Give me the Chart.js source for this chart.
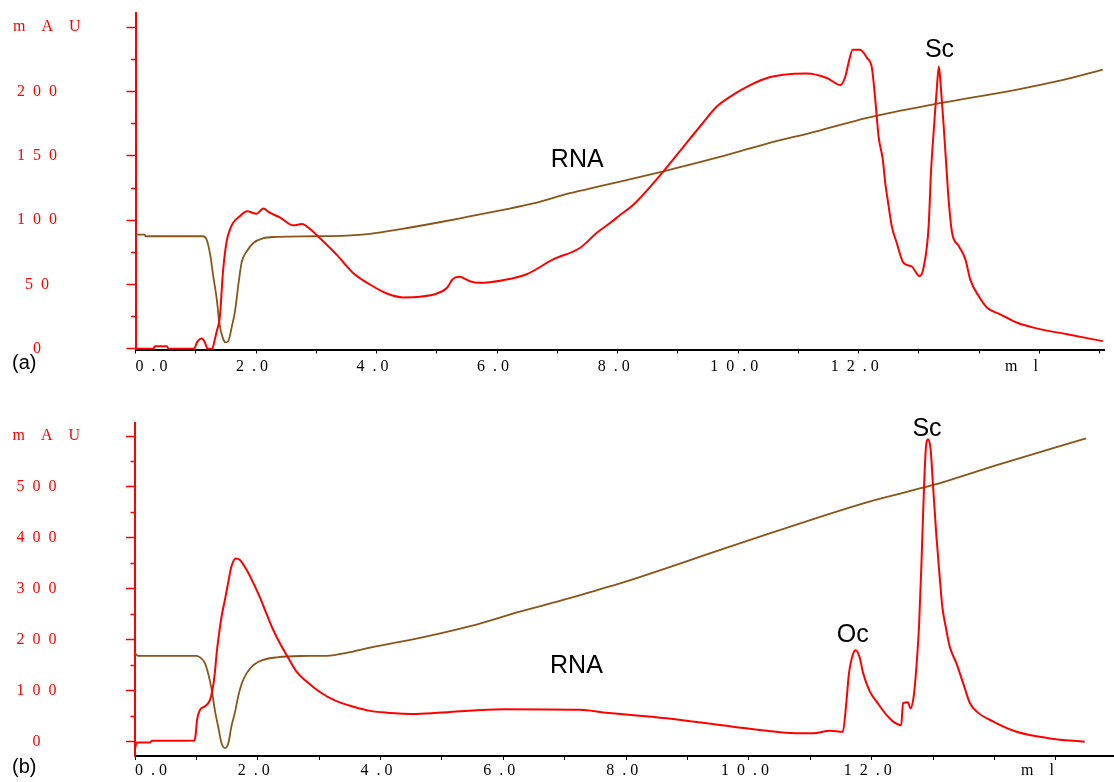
<!DOCTYPE html>
<html><head><meta charset="utf-8">
<script src="https://cdn.jsdelivr.net/npm/chart.js@4/dist/chart.umd.min.js"></script>
<style>
html,body{margin:0;padding:0;background:#fff;}
#wrap{position:relative;width:1114px;height:782px;overflow:hidden;background:#fff;}
canvas{position:absolute;left:0;}
.panel{position:absolute;left:12px;font-family:"Liberation Sans",Arial,sans-serif;font-size:20px;line-height:20px;color:#000;}
</style></head><body>
<div id="wrap">
<canvas id="ca" width="1114" height="385" style="top:0px"></canvas>
<canvas id="cb" width="1114" height="392" style="top:390px"></canvas>
<div class="panel" style="top:352px">(a)</div>
<div class="panel" style="top:756px">(b)</div>
</div>
<script>
// ---------- Panel (a) data ----------
const uvA_ml = [0,0.30,0.32,0.52,0.55,0.97,1.02,1.10,1.15,1.20,1.27,1.32,1.35,1.40,1.45,1.51,1.57,1.62,1.73,1.85,2.01,2.12,2.22,2.40,2.62,2.76,2.90,3.06,3.34,3.61,3.89,4.17,4.44,4.72,5.00,5.17,5.26,5.37,5.55,5.69,6.10,6.49,6.93,7.38,7.65,7.88,8.04,8.26,8.76,9.09,9.37,9.65,9.92,10.20,10.48,10.75,11.14,11.47,11.70,11.78,11.83,11.90,12.02,12.14,12.22,12.27,12.33,12.40,12.44,12.48,12.55,12.63,12.74,12.88,13.01,13.08,13.16,13.20,13.25,13.30,13.33,13.36,13.41,13.45,13.49,13.55,13.66,13.77,13.85,13.99,14.13,14.35,14.63,14.90,15.46,16.05];
const uvA_mAU = [0,0,2,2,0,0,5,8,5,0,0,8,14,25,59,83,93,98,103,107,105,109,106,102,96,97,93,86,73,59,50,43,40,40.5,43,47.5,54,56,52.6,51.4,53.4,58,69.5,78.6,90,98,104,112,138,157,173,188.5,197.6,205,210.5,213,214,210.5,205,212,222,232.5,232.5,226,218,196,165,147,129,116,95,82.5,67,64,56.5,64,95,138,173,205,219.5,205,173,144.5,117,90,80,69.5,54,41,32,26.8,20.3,16.5,11.3,6];
const condA_ml = [0,0.15,0.17,1.12,1.18,1.24,1.29,1.35,1.39,1.46,1.50,1.54,1.60,1.65,1.71,1.76,1.85,1.96,2.12,2.34,3.0,3.5,3.89,4.4,5.0,5.5,6.1,6.6,7.21,7.71,8.04,8.76,9.6,10.48,11.3,12.14,13.24,14.63,15.3,16.05];
const condA_val = [88.7,88.7,87.5,87.5,85,73,56.5,38,20.5,7,5,6,17.7,29,51,67,76,82.5,86,87,87.5,88,89.4,93,98,102.5,108,113,121,126.4,130,138,148,159.5,169,179.5,190,201.5,208,217];
const yTicksA = [0,25,50,75,100,125,150,175,200,225,250];
const notesA = [{text:'RNA', x:7.33, y:141.7}, {text:'Sc', x:13.34, y:227}];

// ---------- Panel (b) data ----------
const uvB_ml = [0,0.03,0.24,0.28,0.97,0.99,1.01,1.06,1.14,1.22,1.27,1.30,1.33,1.37,1.41,1.47,1.52,1.57,1.64,1.71,1.82,1.93,2.04,2.14,2.25,2.36,2.50,2.63,2.80,3.01,3.28,3.56,3.83,4.10,4.59,5.13,6.00,7.25,7.63,8.66,9.74,10.83,11.05,11.32,11.53,11.58,11.63,11.70,11.74,11.80,11.86,11.97,12.08,12.24,12.35,12.48,12.51,12.59,12.63,12.69,12.73,12.77,12.81,12.85,12.88,12.92,12.96,13.00,13.05,13.10,13.15,13.21,13.27,13.38,13.49,13.60,13.71,13.98,14.36,14.90,15.47];
const uvB_mAU = [-12,-1,-1,2.5,3,17,43,63,70,82,108,135,174,213,246,282,314,344,360,357,337,311,282,252,220,193.5,164,138,118,98,80,69,61,57.5,55,59,64,63,58,46.4,30,17,17,22,20,69,135,174,180,167,135,98.6,79,53,40,33,76,78,66,95.5,151,226,350,494,573,593.5,573,500,409,334,265,223,187,154,115,76,59.5,40,20,7,0.6];
const condB_ml = [0,0.05,1.00,1.06,1.14,1.19,1.25,1.30,1.36,1.41,1.47,1.52,1.57,1.63,1.68,1.74,1.82,1.93,2.09,2.31,2.69,3.12,3.50,3.83,4.64,5.46,6.27,7.08,7.57,7.90,9.74,11.92,13.00,14.09,15.49];
const condB_val = [174,169,169,166,154,135,102,63,27,-2.6,-12,-2.6,30,59,89,115,135,151,161,166,168.6,169,176,185,204,227,255.5,282,299.4,311,385,470,504,545,595.5];
const yTicksB = [0,50,100,150,200,250,300,350,400,450,500,550,600];
const notesB = [{text:'RNA', x:7.19, y:135}, {text:'Oc', x:11.69, y:196}, {text:'Sc', x:12.9, y:600}];

// ---------- shared axis labels ----------
const ML_POS = 14.7;
const ML_LABEL = 'm\u2003l';
const UNIT_LABEL = '\u2003\u2009m\u2003A\u2003U';
const EN = '\u2002';

function xLabel(v){
  if (Math.abs(v - ML_POS) < 1e-6) return ML_LABEL;
  if (v % 2 !== 0 || v > 12) return '';
  const s = String(v).split('').join(EN) + EN + '. 0' + EN;
  return v === 0 ? '\u2003\u2003\u2002' + s : s;
}
function yLabelFactory(major, unitAt){
  return v => v === unitAt ? UNIT_LABEL : (v % major === 0 ? String(v).split('').join(EN) : '');
}
function pts(xs, ys){ return xs.map((x,i)=>({x:x, y:ys[i]})); }

const annotate = {
  id:'annotate',
  afterDatasetsDraw(chart, args, opts){
    const {ctx} = chart; const x = chart.scales.x, y = chart.scales.y;
    ctx.save();
    ctx.font = '25px "Liberation Sans", Arial, sans-serif';
    ctx.fillStyle = '#000'; ctx.textAlign = 'center'; ctx.textBaseline = 'alphabetic';
    (opts.items || []).forEach(it => ctx.fillText(it.text, x.getPixelForValue(it.x), y.getPixelForValue(it.y)));
    ctx.restore();
  }
};

const serif = '"Liberation Serif", "Times New Roman", serif';

function make(id, c){
  const xTicks = [];
  for (let i = 0; i <= Math.floor(c.xMax); i++) xTicks.push(i);
  xTicks.push(ML_POS);
  return new Chart(document.getElementById(id), {
    type:'line',
    data:{datasets:[
      {data: pts(c.uvX, c.uvY), borderColor:'#ff0000', borderWidth:2, pointRadius:0, cubicInterpolationMode:'monotone', order:0},
      {data: pts(c.cX, c.cY), borderColor:'#8a5518', borderWidth:1.8, pointRadius:0, cubicInterpolationMode:'monotone', order:1}
    ]},
    options:{
      responsive:false, animation:false, events:[],
      layout:{autoPadding:false, padding:{top:c.padTop, right:c.padRight, left:0, bottom:0}},
      plugins:{legend:{display:false}, tooltip:{enabled:false}, annotate:{items:c.notes}},
      scales:{
        x:{type:'linear', min:0, max:c.xMax, position:'bottom',
          afterFit: s => { s.height = c.xHeight; s.paddingLeft = 0; s.paddingRight = 0; s.paddingTop = 0; s.paddingBottom = 0; },
          afterBuildTicks: s => { s.ticks = xTicks.map(v => ({value:v})); },
          border:{color:'#000', width:2},
          grid:{drawOnChartArea:false, drawTicks:true, tickLength:4, tickWidth:1,
                tickColor: ctx => (ctx.tick && Math.abs(ctx.tick.value - ML_POS) < 1e-6) ? 'rgba(0,0,0,0)' : '#000'},
          ticks:{autoSkip:false, maxRotation:0, minRotation:0, padding:c.xPad, color:'#000',
                 font:{family:serif, size:16}, callback: v => xLabel(v)}
        },
        y:{type:'linear', min:c.yMin, max:c.yMax, position:'left',
          afterFit: s => { s.width = c.yWidth; s.paddingTop = 0; s.paddingBottom = 0; s.paddingLeft = 0; s.paddingRight = 0; },
          afterBuildTicks: s => { s.ticks = c.yTicks.map(v => ({value:v})); },
          border:{color:'#ff0000', width:2},
          grid:{drawOnChartArea:false, drawTicks:true, tickLength:9, tickWidth:1.5, tickColor:'#ff0000',
                tickBorderDash: ctx => (ctx.tick && ctx.tick.value % c.major === 0) ? [] : [0, 4.5, 20]},
          ticks:{autoSkip:false, crossAlign:'center', padding:c.yPad, color:'#ff0000',
                 font:{family:serif, size:16}, callback: yLabelFactory(c.major, c.unitAt)}
        }
      }
    },
    plugins:[annotate]
  });
}

make('ca', {uvX:uvA_ml, uvY:uvA_mAU, cX:condA_ml, cY:condA_val, notes:notesA,
  xMax:16.07, yMin:-0.5, yMax:261, yTicks:yTicksA, major:50, unitAt:250,
  padTop:13, padRight:10, xHeight:35.5, yWidth:135.5, xPad:4, yPad:46});
make('cb', {uvX:uvB_ml, uvY:uvB_mAU, cX:condB_ml, cY:condB_val, notes:notesB,
  xMax:15.93, yMin:-27.5, yMax:625.5, yTicks:yTicksB, major:100, unitAt:600,
  padTop:33, padRight:1, xHeight:26, yWidth:135, xPad:1, yPad:46});
</script>
</body></html>
